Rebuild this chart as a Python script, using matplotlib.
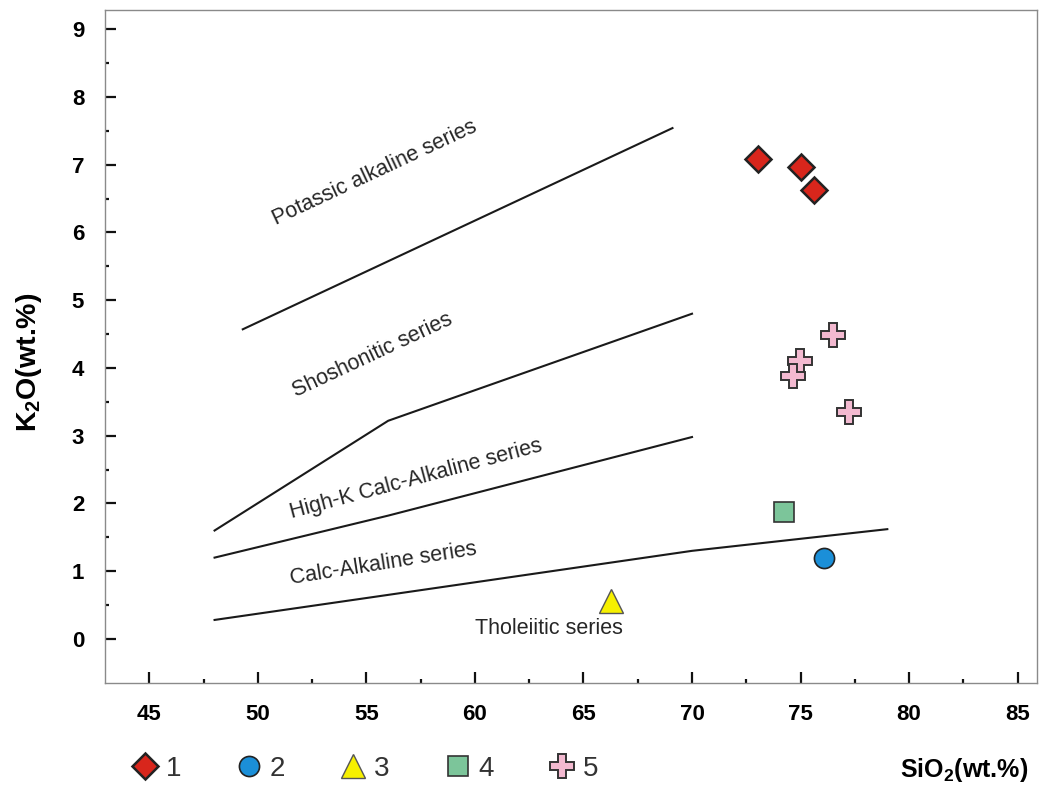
import matplotlib
matplotlib.use('Agg')
import matplotlib.pyplot as plt
import numpy as np
from matplotlib.ticker import MultipleLocator, FixedLocator

plt.rcParams['font.family'] = ['Liberation Sans', 'DejaVu Sans']
plt.rcParams['mathtext.fontset'] = 'custom'
plt.rcParams['mathtext.rm'] = 'Liberation Sans'
plt.rcParams['mathtext.bf'] = 'Liberation Sans:bold'

# boundary lines (SiO2, K2O)
potassic_x = [49.3, 69.1]
potassic_y = [4.57, 7.54]
shosho_x = [48, 56, 70]
shosho_y = [1.6, 3.22, 4.8]
highk_x = [48, 56, 70]
highk_y = [1.2, 1.82, 2.98]
tholei_x = [48, 56, 70, 79]
tholei_y = [0.28, 0.65, 1.3, 1.62]

# samples
g1_sio2 = [73.04, 75.0, 75.63]
g1_k2o = [7.08, 6.97, 6.62]
g2_sio2 = [76.08]
g2_k2o = [1.19]
g3_sio2 = [66.25]
g3_k2o = [0.56]
g4_sio2 = [74.23]
g4_k2o = [1.87]
g5_sio2 = [76.48, 74.97, 74.66, 77.24]
g5_k2o = [4.48, 4.10, 3.88, 3.35]

group_labels = ['1', '2', '3', '4', '5']

# series names: text, x, y, angle
series_names = ['Potassic alkaline series', 'Shoshonitic series',
                'High-K Calc-Alkaline series', 'Calc-Alkaline series',
                'Tholeiitic series']
series_x = [55.4, 55.3, 57.3, 55.8, 63.4]
series_y = [6.88, 4.19, 2.36, 1.11, 0.16]
series_rot = [25, 25, 15, 9, 0]

fig = plt.figure(figsize=(10.55, 7.85), dpi=100)
ax = fig.add_axes([0.0995, 0.130, 0.8835, 0.857])

for xs, ys in [(potassic_x, potassic_y), (shosho_x, shosho_y),
               (highk_x, highk_y), (tholei_x, tholei_y)]:
    ax.plot(xs, ys, color='#1a1a1a', lw=1.5)

for name, x, y, r in zip(series_names, series_x, series_y, series_rot):
    ax.text(x, y, name, fontsize=15.5, color='#262626', rotation=r,
            rotation_mode='anchor', ha='center', va='center')

ec = '#222222'
h1 = ax.plot(g1_sio2, g1_k2o, 'D', ms=13.5, mfc='#d8261c', mec=ec, mew=1.8, ls='none')[0]
h2 = ax.plot(g2_sio2, g2_k2o, 'o', ms=14.5, mfc='#1b8fd8', mec=ec, mew=1.2, ls='none')[0]
h3 = ax.plot(g3_sio2, g3_k2o, '^', ms=17, mfc='#f6f000', mec='#555555', mew=1.0, ls='none')[0]
h4 = ax.plot(g4_sio2, g4_k2o, 's', ms=14, mfc='#7cc59a', mec='#333333', mew=1.2, ls='none')[0]
h5 = ax.plot(g5_sio2, g5_k2o, 'P', ms=17, mfc='#f3b9d0', mec='#333333', mew=1.4, ls='none')[0]

ax.set_xlim(42.95, 85.9)
ax.set_ylim(-0.65, 9.28)
ax.xaxis.set_major_locator(MultipleLocator(5))
ax.xaxis.set_minor_locator(MultipleLocator(2.5))
ax.yaxis.set_major_locator(MultipleLocator(1))
ax.yaxis.set_minor_locator(FixedLocator(np.arange(0.5, 9, 1)))
ax.tick_params(which='both', direction='in', width=1.6, color='#111111')
ax.tick_params(which='major', length=8)
ax.tick_params(which='minor', length=3)
ax.tick_params(axis='x', which='major', pad=15.5, labelsize=16)
ax.tick_params(axis='y', which='major', pad=15, labelsize=16)
for lab in ax.get_xticklabels() + ax.get_yticklabels():
    lab.set_fontweight('bold')
for s in ax.spines.values():
    s.set_color('#8a8a8a')
    s.set_linewidth(1.0)

ax.set_xlabel(r'SiO$_\mathbf{2}$(wt.%)', fontsize=18, fontweight='bold')
ax.xaxis.set_label_coords(0.922, -0.13)
ax.xaxis.label.set_va('center')
ax.set_ylabel(r'K$_\mathbf{2}$O(wt.%)', fontsize=20.5, fontweight='bold')
ax.yaxis.set_label_coords(-0.082, 0.477)
ax.yaxis.label.set_va('center')

fig.legend([h1, h2, h3, h4, h5], group_labels, ncol=5, frameon=False,
           loc='center left', bbox_to_anchor=(0.124, 0.021),
           borderaxespad=0, borderpad=0, fontsize=20, labelcolor='#333333',
           handlelength=1.0, handletextpad=0.25, columnspacing=1.95)

fig.savefig('out.png', dpi=100)
